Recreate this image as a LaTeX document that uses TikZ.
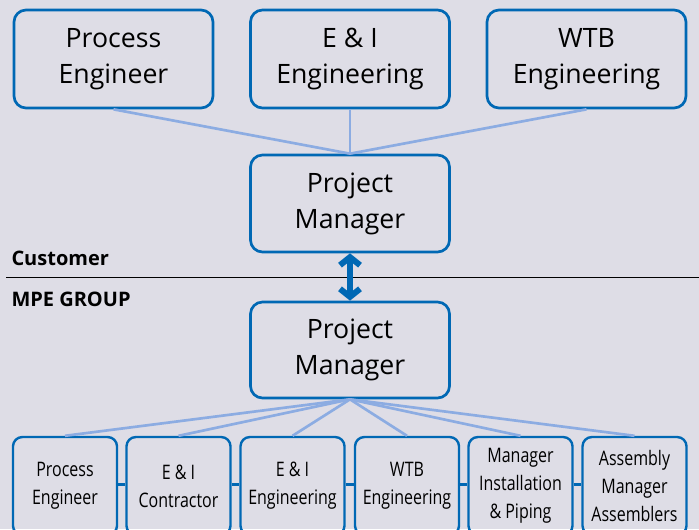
\documentclass[tikz,border=0pt]{standalone}
\usepackage{fontspec}
\setmainfont{Open Sans}
\newfontfamily\narrowsans[FakeStretch=0.8]{Open Sans}
\usetikzlibrary{arrows.meta}
\definecolor{boxblue}{RGB}{0,104,180}
\definecolor{linkblue}{RGB}{140,172,226}
\definecolor{paper}{RGB}{222,221,230}
\tikzset{every picture/.style={line width=0.75pt}}
\tikzset{
bigbox/.style={draw=boxblue, line width=2pt, rounded corners=9pt, minimum width=149.25pt, minimum height=73.5pt, align=center, font=\fontsize{20}{27}\selectfont, inner sep=0pt},
smallbox/.style={draw=boxblue, line width=1.8pt, rounded corners=7pt, minimum width=78pt, minimum height=73.5pt, align=center, font=\narrowsans\fontsize{15}{21}\selectfont, inner sep=0pt},
link/.style={draw=linkblue, line width=2pt},
chain/.style={draw=boxblue, line width=2.2pt},
sidelabel/.style={font=\fontsize{15}{18}\selectfont\bfseries, anchor=base west, inner sep=0pt}}

\begin{document}
\begin{tikzpicture}[x=0.75pt,y=0.75pt,yscale=-1,xscale=1]
%Shape: Background
\fill[paper] (0,0) rectangle (699,529);
\clip (0,0) rectangle (699,529);

%Customer side
\node[bigbox] (cpe) at (113.5,59) {Process\\Engineer};
\node[bigbox] (cei) at (350,59) {E \& I\\Engineering};
\node[bigbox] (cwtb) at (586.5,59) {WTB\\Engineering};
\node[bigbox, minimum height=72.75pt] (cpm) at (350,203.5) {Project\\Manager};

\draw[link] (cpe.south) -- (cpm.north);
\draw[link] (cei.south) -- (cpm.north);
\draw[link] (cwtb.south) -- (cpm.north);

% Text Node
\node[sidelabel] (cust) at (11,265) {Customer};
% Text Node
\node[sidelabel] (mpe) at (11,306) {MPE GROUP};
%Straight Lines
\draw[black] (6,277) -- (699,277);

%MPE side
\node[bigbox, minimum height=72pt] (mpm) at (350,350) {Project\\Manager};
\draw[boxblue, line width=4.5pt, {Straight Barb[length=6pt,width=15pt]}-{Straight Barb[length=6pt,width=15pt]}] (cpm.south) -- (mpm.north);

\node[smallbox] (mpe1) at (65,486) {Process\\Engineer};
\node[smallbox] (mpe2) at (178.5,486) {E \& I\\Contractor};
\node[smallbox] (mpe3) at (292.5,486) {E \& I\\Engineering};
\node[smallbox] (mpe4) at (407,486) {WTB\\Engineering};
\node[smallbox] (mpe5) at (520.5,486) {Manager\\Installation\\\& Piping};
\node[smallbox] (mpe6) at (634.5,486) {Assembly\\Manager\\Assemblers};

\foreach \i in {1,...,6}
  \draw[link] (mpm.south) -- (mpe\i.north);
\foreach \i/\j in {1/2,2/3,3/4,4/5,5/6}
  \draw[chain] ([yshift=-1pt]mpe\i.east) -- ([yshift=-1pt]mpe\j.west);

\end{tikzpicture}
\end{document}
